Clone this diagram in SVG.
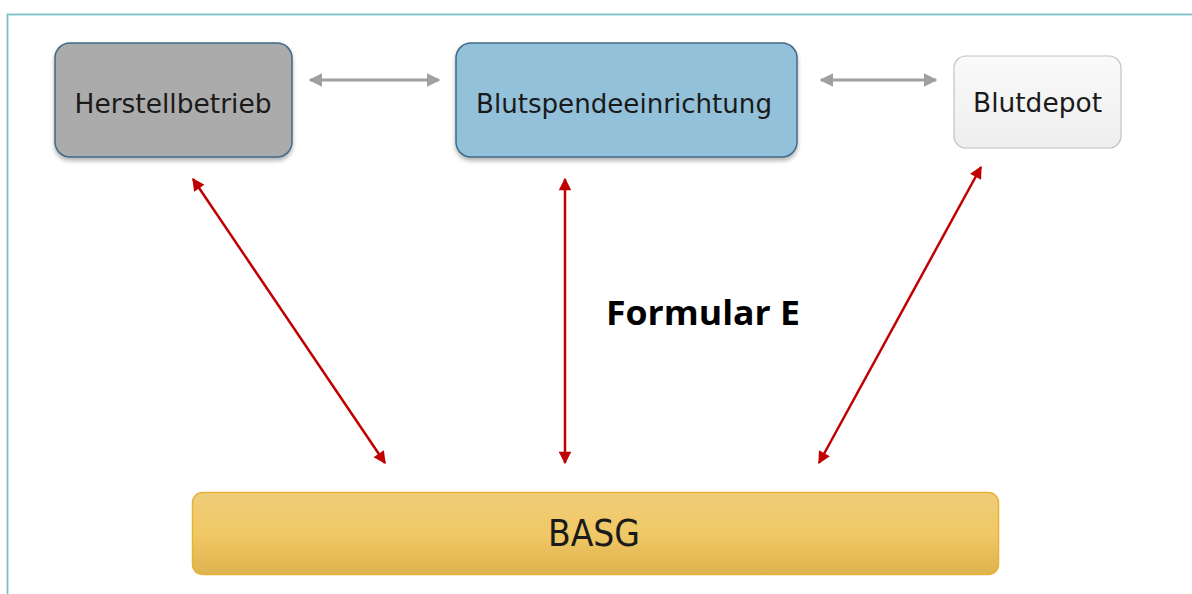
<svg xmlns="http://www.w3.org/2000/svg" width="1192" height="594" viewBox="0 0 1192 594">
<style>
.lbl{font-family:"DejaVu Sans Condensed","DejaVu Sans",sans-serif;fill:#1a1a1a;text-anchor:middle}
.gray{stroke:#a0a0a0;stroke-width:3;fill:none}
.red{stroke:#c00000;stroke-width:2.5;fill:none}
</style>
<defs>
<marker id="ag" viewBox="0 0 10 10" refX="9" refY="5" markerWidth="4.5" markerHeight="4.5" orient="auto-start-reverse" markerUnits="strokeWidth"><path d="M0,0 L10,5 L0,10 Z" fill="#a0a0a0"/></marker>
<marker id="ar" viewBox="0 0 10 10" refX="9" refY="5" markerWidth="5.5" markerHeight="5" orient="auto-start-reverse" markerUnits="strokeWidth"><path d="M0,0 L10,5 L0,10 Z" fill="#c00000"/></marker>
<filter id="sh" x="-10%" y="-10%" width="120%" height="130%"><feDropShadow dx="0" dy="3" stdDeviation="2" flood-color="#000" flood-opacity="0.3"/></filter>
<linearGradient id="gw" x1="0" y1="0" x2="0" y2="1"><stop offset="0" stop-color="#fafafa"/><stop offset="1" stop-color="#eeeeee"/></linearGradient>
<linearGradient id="gy" x1="0" y1="0" x2="0" y2="1"><stop offset="0" stop-color="#efcd7a"/><stop offset="0.5" stop-color="#f0c865"/><stop offset="1" stop-color="#dfb24e"/></linearGradient>
</defs>
<rect x="0" y="0" width="1192" height="594" fill="#fff"/>
<rect x="7.5" y="14.5" width="1200" height="600" fill="none" stroke="#7bbfc9" stroke-width="1.8"/>
<g id="connectors">
<line class="gray" x1="310" y1="80" x2="439" y2="80" marker-start="url(#ag)" marker-end="url(#ag)"/>
<line class="gray" x1="821" y1="80" x2="936" y2="80" marker-start="url(#ag)" marker-end="url(#ag)"/>
<line class="red" x1="193" y1="179" x2="385" y2="463" marker-start="url(#ar)" marker-end="url(#ar)"/>
<line class="red" x1="565" y1="179" x2="565" y2="463" marker-start="url(#ar)" marker-end="url(#ar)"/>
<line class="red" x1="981" y1="167" x2="819" y2="463" marker-start="url(#ar)" marker-end="url(#ar)"/>
</g>
<g id="herstellbetrieb">
<rect x="55" y="43" width="237" height="114" rx="15" fill="#ababab" stroke="#3f6b88" stroke-width="1.5" filter="url(#sh)"/>
<text class="lbl" x="173" y="113" font-size="26" textLength="197" lengthAdjust="spacingAndGlyphs">Herstellbetrieb</text>
</g>
<g id="blutspendeeinrichtung">
<rect x="456" y="43" width="341" height="114" rx="15" fill="#94c1da" stroke="#3f6b88" stroke-width="1.5" filter="url(#sh)"/>
<text class="lbl" x="624" y="113" font-size="26" textLength="296" lengthAdjust="spacingAndGlyphs">Blutspendeeinrichtung</text>
</g>
<g id="blutdepot">
<rect x="954" y="56" width="167" height="92" rx="12" fill="url(#gw)" stroke="#c2c2c2" stroke-width="1.2"/>
<text class="lbl" x="1037.5" y="112" font-size="26" textLength="129" lengthAdjust="spacingAndGlyphs">Blutdepot</text>
</g>
<g id="basg">
<rect x="192.5" y="492.5" width="806" height="82" rx="10" fill="url(#gy)" stroke="#e8b23a" stroke-width="1.5"/>
<text class="lbl" x="594" y="546" font-size="37" textLength="92" lengthAdjust="spacingAndGlyphs">BASG</text>
</g>
<g id="label">
<text x="703" y="325" font-family="'Open Sans','DejaVu Sans',sans-serif" font-weight="bold" font-size="34" fill="#000" text-anchor="middle" textLength="194" lengthAdjust="spacingAndGlyphs">Formular E</text>
</g>
</svg>
